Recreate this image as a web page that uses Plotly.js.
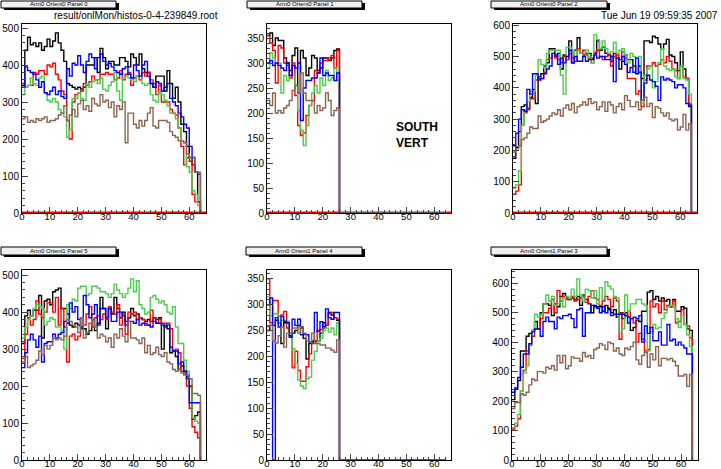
<!DOCTYPE html>
<html><head><meta charset="utf-8">
<script src="https://cdn.plot.ly/plotly-3.0.1.min.js"></script>
<style>html,body{margin:0;padding:0;background:#fff}#chart{width:721px;height:469px}</style>
</head><body><div id="chart"></div>
<script>
// ---- Data: bin contents (bins of width 1, x from 0 to 64) ----
var p0_black=[345,440,475,455,460,450,460,440,450,470,450,465,487,460,440,410,350,345,340,335,340,335,340,400,400,400,420,380,445,420,390,410,410,400,400,420,420,410,395,430,420,400,430,390,380,380,350,340,370,370,370,330,385,350,310,340,300,240,220,180,150,130,110,30];
var p0_red=[350,340,345,345,380,375,385,385,375,400,395,405,375,360,330,320,250,200,300,320,325,330,350,345,355,370,360,360,375,375,380,375,375,360,365,385,360,375,380,345,365,370,360,380,370,380,360,350,320,345,300,300,300,280,270,265,230,180,130,150,140,50,30,30];
var p0_green=[320,340,345,365,350,345,365,370,325,305,300,310,300,280,270,260,205,225,310,310,325,310,305,350,340,355,360,350,365,335,330,345,355,380,330,305,365,370,365,360,355,370,370,350,345,350,320,305,300,325,320,305,290,270,270,255,230,195,190,125,110,60,50,20];
var p0_blue=[340,395,385,380,375,360,340,355,325,320,330,340,320,330,315,310,390,370,405,400,425,400,380,410,430,420,390,420,430,410,400,405,395,385,380,375,390,395,375,365,400,385,370,400,410,370,350,340,355,350,330,340,350,310,300,290,270,260,240,230,180,150,110,105];
var p0_brown=[255,260,245,250,245,255,250,255,260,245,250,250,255,265,270,290,250,265,280,260,295,305,280,290,275,310,295,290,320,300,305,285,300,260,290,280,300,190,270,270,240,230,250,235,250,270,285,235,230,250,250,250,245,220,210,205,195,195,190,160,150,150,110,110];

var p1_black=[355,360,335,350,345,345,310,300,285,315,330,240,325,310,275,290,315,310,285,290,310,310,305,310,325,328];
var p1_red=[355,340,325,260,335,330,300,295,270,300,235,175,155,160,195,215,225,285,280,300,305,305,310,315,290,325];
var p1_green=[290,320,310,300,300,240,275,265,275,275,255,205,165,135,175,215,240,255,240,270,255,285,265,270,290,265];
var p1_blue=[300,305,295,300,295,290,285,300,275,295,290,300,185,250,265,265,270,270,280,310,275,280,275,275,265,280];
var p1_brown=[225,215,240,200,205,200,210,215,225,245,255,240,280,240,225,225,225,200,215,205,210,240,225,195,205,210];

var p2_black=[175,210,260,340,345,335,370,395,350,435,445,470,480,525,525,500,510,460,505,490,550,480,520,560,510,505,510,510,495,510,550,520,530,510,505,485,510,495,460,485,505,490,490,470,445,470,430,550,550,545,565,560,540,525,540,555,505,500,480,455,515,460,430,340];
var p2_red=[60,70,90,280,320,330,365,365,425,430,430,450,490,495,510,495,490,480,500,490,510,495,485,525,510,520,505,495,480,515,520,500,490,500,505,470,500,505,490,515,495,430,430,430,380,390,340,425,470,470,480,470,475,490,480,500,485,460,455,430,470,435,430,350];
var p2_green=[80,90,135,280,330,355,390,390,440,490,475,465,510,520,520,520,520,440,380,530,530,520,495,520,510,500,520,500,480,570,555,525,550,525,510,515,545,510,520,525,505,480,510,500,495,500,350,440,460,470,400,420,480,525,470,460,455,460,435,430,470,430,425,380];
var p2_blue=[215,255,300,330,325,395,380,445,445,425,430,445,460,470,510,505,475,495,480,500,520,480,500,485,485,500,485,490,490,505,495,500,500,490,490,500,420,495,490,500,475,450,465,450,495,450,360,415,440,425,420,405,360,435,425,430,425,420,400,410,410,400,350,345];
var p2_brown=[195,205,215,235,240,255,275,270,270,310,290,295,300,310,320,315,330,310,335,345,330,350,320,340,345,355,345,365,350,355,330,340,355,325,355,345,320,340,350,330,375,360,340,340,355,330,360,370,340,350,305,340,335,320,310,320,300,295,300,265,275,315,265,285];

var p5_black=[315,390,405,390,405,405,445,330,430,435,420,455,460,465,410,410,395,365,360,370,365,360,355,340,350,380,350,370,440,410,355,410,395,440,410,385,400,375,385,410,390,395,385,380,375,380,375,385,380,385,300,365,355,290,295,280,245,255,240,225,200,110,120,130];
var p5_red=[275,340,385,365,380,430,395,385,400,425,425,400,440,365,410,360,265,335,340,325,335,385,365,395,415,360,385,390,380,395,380,415,400,395,420,365,395,340,400,395,400,380,385,380,370,365,405,385,370,380,370,370,370,355,295,300,290,240,235,200,140,90,75,60];
var p5_green=[330,360,380,390,410,420,415,410,365,375,385,380,360,360,350,300,420,410,435,430,465,470,470,445,450,470,470,465,455,455,450,440,450,475,460,450,440,450,465,490,455,485,420,410,395,400,440,445,435,425,430,420,400,395,415,360,315,315,270,240,195,115,105,100];
var p5_blue=[250,290,325,340,325,305,335,265,315,320,320,340,330,340,345,375,370,425,400,415,380,355,445,420,385,395,420,365,410,410,385,410,375,375,400,400,390,365,375,375,370,380,365,370,365,365,360,375,370,370,365,360,365,305,295,295,260,265,240,220,155,155,155,155];
var p5_brown=[265,280,250,255,260,270,295,285,310,300,310,330,325,330,325,335,380,375,365,360,345,385,330,345,370,380,360,330,340,335,320,330,305,340,330,355,335,320,375,330,330,325,315,330,290,310,285,290,305,285,280,290,265,260,245,240,245,235,230,230,220,180,180,175];

var p4_black=[250,260,260,270,265,225,265,265,240,245,250,260,255,235,195,225,230,230,230,245,265,260,285,280,275,270];
var p4_red=[350,265,308,308,278,280,287,255,245,178,210,173,152,152,180,205,225,228,250,252,255,260,283,285,275,272];
var p4_green=[315,278,282,283,265,270,268,268,245,215,187,155,143,138,157,160,193,210,230,235,250,255,247,255,242,265];
var p4_blue=[300,313,0,275,257,277,268,265,237,272,260,272,242,243,242,228,228,285,248,267,258,292,275,272,285,285];
var p4_brown=[258,260,230,226,240,257,218,245,245,255,255,245,258,245,230,228,245,225,225,222,222,216,216,212,208,232];

var p3_black=[205,240,270,370,370,420,430,440,470,445,500,530,530,525,490,530,520,555,565,550,545,550,545,555,525,560,545,530,500,525,520,520,505,525,515,500,510,485,500,480,500,485,440,450,475,470,505,505,570,575,545,555,540,550,540,545,520,545,505,505,520,515,445,440];
var p3_red=[105,115,140,235,305,370,390,420,445,445,480,500,500,515,545,500,575,540,555,545,545,555,540,545,550,555,535,555,575,550,545,525,540,555,545,520,550,540,410,500,490,505,480,465,400,430,410,370,375,540,520,530,500,540,510,525,520,540,465,470,510,460,455,415];
var p3_green=[110,125,155,235,295,320,395,440,495,485,495,530,560,540,555,525,530,550,520,555,550,580,555,615,560,540,580,575,550,575,530,585,545,605,590,580,555,550,435,445,560,505,530,530,545,545,530,525,370,435,460,445,450,480,500,520,525,520,480,450,490,460,425,385];
var p3_blue=[230,245,280,315,360,360,395,435,445,445,420,470,485,470,470,445,485,480,490,490,495,480,450,510,515,420,500,500,525,520,515,500,520,500,510,490,495,495,495,495,490,465,480,485,480,490,400,455,430,450,405,405,435,390,390,460,405,410,390,400,390,380,360,360];
var p3_brown=[175,195,195,225,220,230,255,275,270,300,300,295,315,310,320,305,355,330,355,310,320,350,345,345,335,365,350,355,345,375,380,395,390,375,400,395,370,380,360,355,380,375,385,400,340,325,355,365,315,360,340,385,320,345,345,340,345,335,320,285,285,290,250,290];

var panelTitles=["Arm0 Orient0 Panel 0","Arm0 Orient0 Panel 1","Arm0 Orient0 Panel 2","Arm0 Orient1 Panel 5","Arm0 Orient1 Panel 4","Arm0 Orient1 Panel 3"];
var xTickVals=[0,10,20,30,40,50,60];

// ---- Build ----
var NB=64;
var colors={black:"#000000",red:"#ff0000",green:"#4ccc4c",blue:"#0000ff",brown:"#8a6450"};
var panels=[
 {s:[p0_black,p0_red,p0_green,p0_blue,p0_brown],ymax:511,dt:100,mn:20,base:true},
 {s:[p1_black,p1_red,p1_green,p1_blue,p1_brown],ymax:378,dt:50,mn:10,base:true},
 {s:[p2_black,p2_red,p2_green,p2_blue,p2_brown],ymax:604,dt:100,mn:20,base:true},
 {s:[p5_black,p5_red,p5_green,p5_blue,p5_brown],ymax:514,dt:100,mn:20,base:false},
 {s:[p4_black,p4_red,p4_green,p4_blue,p4_brown],ymax:367,dt:50,mn:10,base:false},
 {s:[p3_black,p3_red,p3_green,p3_blue,p3_brown],ymax:645,dt:100,mn:20,base:false}
];
var col=["black","red","green","blue","brown"];
// pixel boxes [x0,x1,y0,y1]
var boxes=[[22,206,24,213],[267,451,24,213],[513,697,24,213],[22,206,270,460],[267,451,270,460],[512,698,270,460]];
var titleBoxes=[[1,116,1,8],[247,362,1,8],[491,607,1,8],[1,116,247,255],[246,362,247,255],[491,607,247,255]];
var W=721,H=469;
var traces=[],layout={width:W,height:H,margin:{l:0,r:0,t:0,b:0},showlegend:false,
 paper_bgcolor:"#fff",plot_bgcolor:"#fff",shapes:[],annotations:[],
 font:{family:"Liberation Sans, Arial, sans-serif",size:10,color:"#000"}};
var edges=[];for(var i=0;i<=NB;i++)edges.push(i);
panels.forEach(function(p,k){
  var n=k+1, xa="x"+(n===1?"":n), ya="y"+(n===1?"":n);
  if(p.base){traces.push({x:[0,66],y:[0,0],xaxis:xa,yaxis:ya,mode:"lines",line:{color:"#ff0000",width:3},hoverinfo:"skip"});}
  p.s.forEach(function(v,j){
    var vals=v.slice();while(vals.length<NB)vals.push(0);
    traces.push({x:edges,y:vals.concat([0]),xaxis:xa,yaxis:ya,mode:"lines",
      line:{color:colors[col[j]],width:1.4,shape:"hv"},hoverinfo:"skip"});
  });
  var b=boxes[k];
  var ax={domain:[b[0]/W,b[1]/W],range:[0,66],tickvals:xTickVals,ticks:"inside",ticklen:6,tickwidth:1,
    showline:true,linecolor:"#000",linewidth:1,mirror:true,showgrid:false,zeroline:false,
    ticklabelstandoff:-5,
    anchor:ya,tickfont:{size:9.5,family:"Liberation Sans, Arial, sans-serif"},
    minor:{dtick:2,ticks:"inside",ticklen:3,tickwidth:1,showgrid:false}};
  var ay={domain:[1-b[3]/H,1-b[2]/H],range:[0,p.ymax],dtick:p.dt,tick0:0,ticks:"inside",ticklen:6,tickwidth:1,
    showline:true,linecolor:"#000",linewidth:1,mirror:true,showgrid:false,zeroline:false,
    anchor:xa,tickfont:{size:10,family:"Liberation Sans, Arial, sans-serif"},
    minor:{dtick:p.mn,ticks:"inside",ticklen:3,tickwidth:1,showgrid:false}};
  layout["xaxis"+(n===1?"":n)]=ax;layout["yaxis"+(n===1?"":n)]=ay;
  var t=titleBoxes[k];
  layout.shapes.push({type:"rect",xref:"paper",yref:"paper",x0:(t[0]+3)/W,x1:(t[1]+3)/W,y0:1-(t[3]+2)/H,y1:1-(t[2]+2)/H,fillcolor:"#000",line:{width:0}});
  layout.shapes.push({type:"rect",xref:"paper",yref:"paper",x0:t[0]/W,x1:t[1]/W,y0:1-t[3]/H,y1:1-t[2]/H,fillcolor:"#f0f0f0",line:{color:"#000",width:1}});
  layout.annotations.push({xref:"paper",yref:"paper",x:(t[0]+t[1])/2/W,y:1-(t[2]+t[3])/2/H,text:panelTitles[k],showarrow:false,
    font:{size:6,family:"Liberation Sans, Arial, sans-serif",color:"#000"},xanchor:"center",yanchor:"middle"});
});
layout.annotations.push({xref:"paper",yref:"paper",x:220/W,y:1-16/H,text:"result/onlMon/histos-0-4-239849.root",showarrow:false,xanchor:"right",yanchor:"middle",font:{size:10}});
layout.annotations.push({xref:"paper",yref:"paper",x:720/W,y:1-16/H,text:"Tue Jun 19 09:59:35 2007",showarrow:false,xanchor:"right",yanchor:"middle",font:{size:10}});
layout.annotations.push({xref:"paper",yref:"paper",x:394/W,y:1-127/H,text:"<b>SOUTH</b>",showarrow:false,xanchor:"left",yanchor:"middle",font:{size:12}});
layout.annotations.push({xref:"paper",yref:"paper",x:394/W,y:1-143/H,text:"<b>VERT</b>",showarrow:false,xanchor:"left",yanchor:"middle",font:{size:12}});
Plotly.newPlot("chart",traces,layout,{staticPlot:true});
</script></body></html>
